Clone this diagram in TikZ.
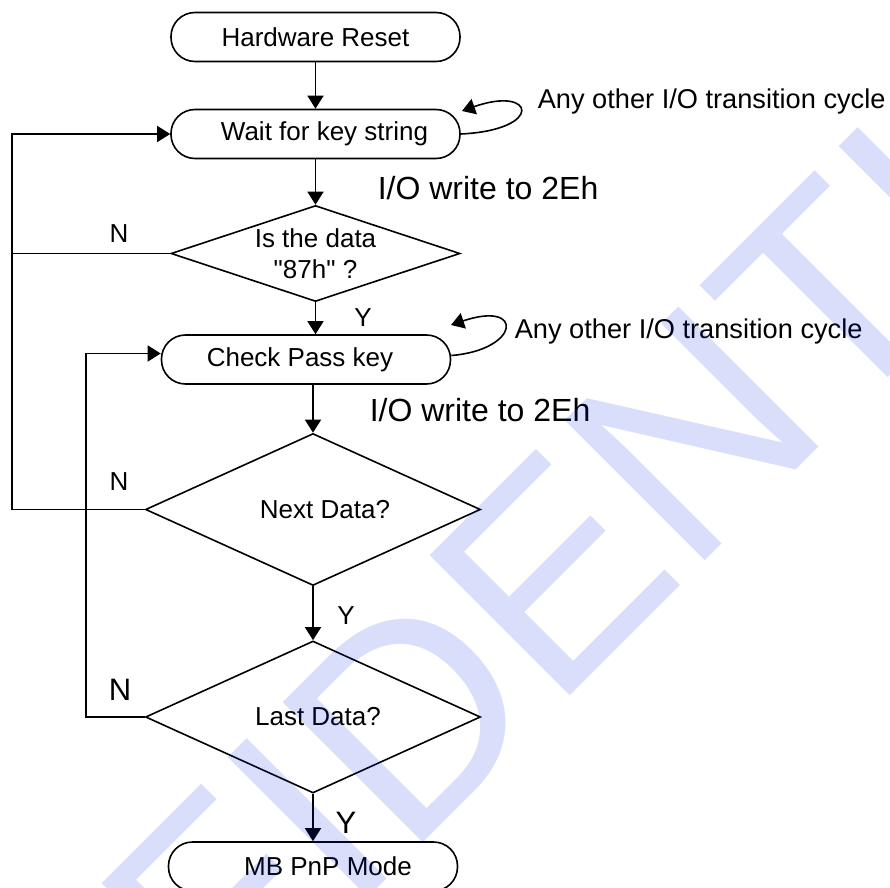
\documentclass[tikz,border=0pt]{standalone}
\usepackage{fontspec}
\setmainfont{Liberation Sans}
\newfontfamily\plainquotes{Liberation Sans}
\usetikzlibrary{shapes.geometric,arrows.meta}

\definecolor{stampblue}{RGB}{0,33,221}

\tikzset{
  terminal/.style={draw, rectangle, rounded corners=12pt, minimum width=144.5pt,
    minimum height=24.5pt, inner sep=0pt, font=\fontsize{13}{15.6}\selectfont},
  decision/.style={draw, diamond, shape aspect=3, inner sep=0pt, align=center,
    font=\fontsize{13}{15.6}\selectfont},
  flow/.style={-{Triangle[length=6.5pt,width=8pt]}},
  note/.style={anchor=base west, inner sep=0pt},
}

\begin{document}
\begin{tikzpicture}[x=0.5pt, y=-0.5pt, line width=0.8pt]
  % Page in pixels, y pointing down
  \useasboundingbox (0,0) rectangle (890,888);
  \clip (0,0) rectangle (890,888);

  % Boxes and decisions (leading space nudges the text right)
  \node[terminal] (reset) at (315.5,37) {Hardware Reset};
  \node[terminal] (wait) at (315.5,134) {\hspace*{9pt}Wait for key string};
  \node[decision, minimum width=144.5pt, minimum height=48pt] (isdata) at (315.5,253.5) {Is the data\\{\plainquotes"87h" ?}};
  \node[terminal] (check) at (306,359.5) {Check Pass key\hspace*{6pt}};
  \node[decision, minimum width=167.5pt, minimum height=76pt] (nextdata) at (313,509.5) {\hspace*{12pt}Next Data?};
  \node[decision, minimum width=167.5pt, minimum height=76pt] (lastdata) at (313,717) {\hspace*{5pt}Last Data?};
  \node[terminal] (mb) at (313,866.5) {\hspace*{15pt}MB PnP Mode};

  % Main flow
  \draw[flow] (reset) -- (wait);
  \draw[flow] (wait) -- (isdata);
  \draw[flow] (isdata.south) -- (isdata.south |- check.north);
  \draw[flow] (check.south -| nextdata.north) -- (nextdata.north);
  \draw[flow] (nextdata) -- (lastdata);
  \draw[flow] (lastdata) -- (mb);

  % N branches back up the left side
  \coordinate (rail) at (12,0);
  \coordinate (innerrail) at (86,0);
  \draw[flow] (nextdata.west) -- (nextdata.west -| rail) |- (wait.west);
  \draw (isdata.west) -- (isdata.west -| rail);
  \draw[flow] (lastdata.west) -- (lastdata.west -| innerrail) |- ([yshift=3pt]check.west);

  % Self loops
  \coordinate (waitback) at (462,111);
  \coordinate (checkback) at (451,325);
  \draw[flow] (wait.east) .. controls (545,130) and (535,85) .. (waitback);
  \draw[flow] ([yshift=2pt]check.east) .. controls (520,350) and (525,300) .. (checkback);

  % Branch labels
  \foreach [count=\i] \x/\y/\s/\t in {119/234/13/N, 363/318/13/Y, 119/482/13/N,
      346/616/13/Y, 120/690/15.5/N, 346/823/15.5/Y} {
    \node[font=\fontsize{\s}{\s}\selectfont] (branch\i) at (\x,\y) {\t};
  }

  % Transition notes
  \node[note, font=\fontsize{13.6}{16}\selectfont] (other1) at (537,109) {Any other I/O transition cycle};
  \node[note, font=\fontsize{13.6}{16}\selectfont] (other2) at (514,338) {Any other I/O transition cycle};
  \node[note, font=\fontsize{16}{19}\selectfont] (write1) at (377,199) {I/O write to 2Eh};
  \node[note, font=\fontsize{16}{19}\selectfont] (write2) at (369,421) {I/O write to 2Eh};

  % Watermark
  \node[note, rotate=45, text=stampblue, text opacity=0.15,
    font=\fontsize{144}{144}\selectfont] (stamp) at (-228,1494) {CONFIDENTIAL};
\end{tikzpicture}
\end{document}
